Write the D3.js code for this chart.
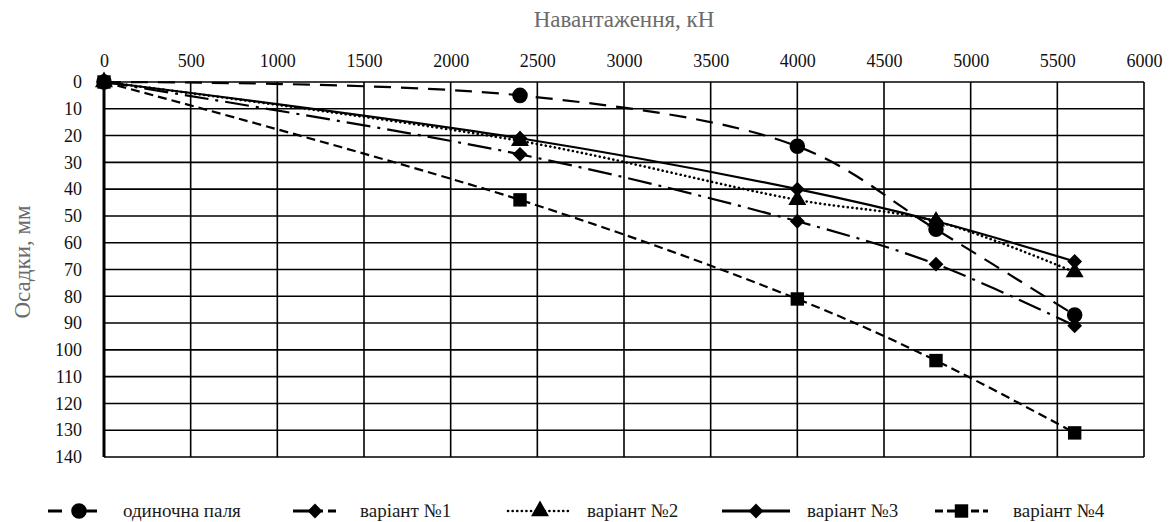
<!DOCTYPE html>
<html>
<head>
<meta charset="utf-8">
<script src="https://cdn.jsdelivr.net/npm/d3@7"></script>
<style>
  body { margin: 0; background: #fff; }
</style>
</head>
<body>
<div id="chart"></div>
<script>
'use strict';

const FONT = '"Liberation Serif", "Times New Roman", "DejaVu Serif", serif';

// loads, kN
const loads = [0, 2400, 4000, 4800, 5600];

// settlements, mm
const singlePile = [0, 5, 24, 55, 87];
const variant1 = [0, 27, 52, 68, 91];
const variant2 = [0, 22, 44, 52, 71];
const variant3 = [0, 21, 40, 52, 67];
const variant4 = [0, 44, 81, 104, 131];

const seriesNames = ["одиночна паля", "варіант №1", "варіант №2", "варіант №3", "варіант №4"];
const xTicks = d3.range(0, 6001, 500);
const yTicks = d3.range(0, 141, 10);

const width = 1170, height = 522;
const margin = {top: 82, right: 26, bottom: 65, left: 104};

const svg = d3.select("#chart").append("svg")
  .attr("width", width)
  .attr("height", height)
  .attr("font-family", FONT);

const x = d3.scaleLinear().domain([0, 6000]).range([margin.left, width - margin.right]);
const y = d3.scaleLinear().domain([0, 140]).range([margin.top, height - margin.bottom]);

// equal diamond like the spreadsheet marker
const squareDiamond = {
  draw: function(ctx, size) {
    const r = Math.sqrt(size / 2);
    ctx.moveTo(0, -r); ctx.lineTo(r, 0); ctx.lineTo(0, r); ctx.lineTo(-r, 0); ctx.closePath();
  }
};

// grid
svg.append("g").selectAll("line")
  .data(xTicks)
  .join("line")
  .attr("x1", d => x(d)).attr("x2", d => x(d))
  .attr("y1", y(0)).attr("y2", y(140))
  .attr("stroke", "#000").attr("stroke-width", 1.6);

svg.append("g").selectAll("line")
  .data(yTicks)
  .join("line")
  .attr("x1", x(0)).attr("x2", x(6000))
  .attr("y1", d => y(d)).attr("y2", d => y(d))
  .attr("stroke", "#000").attr("stroke-width", 1.6);

// thick left axis
svg.append("line")
  .attr("x1", x(0)).attr("x2", x(0))
  .attr("y1", y(0)).attr("y2", y(140))
  .attr("stroke", "#000").attr("stroke-width", 3);

// tick labels via axes
const xAxis = svg.append("g")
  .attr("transform", "translate(0," + (y(0) - 9) + ")")
  .call(d3.axisTop(x).tickValues(xTicks).tickSize(0).tickPadding(6).tickFormat(d3.format("d")));
const yAxis = svg.append("g")
  .attr("transform", "translate(" + (x(0) - 22) + ",0)")
  .call(d3.axisLeft(y).tickValues(yTicks).tickSize(0).tickPadding(0).tickFormat(d3.format("d")));
[xAxis, yAxis].forEach(a => {
  a.attr("font-family", FONT).attr("font-size", 18);
  a.select(".domain").remove();
  a.selectAll("text").attr("fill", "#111");
});

// axis titles
svg.append("text")
  .attr("x", 624).attr("y", 27)
  .attr("text-anchor", "middle")
  .attr("fill", "#6b6b6b")
  .attr("font-size", 23)
  .text("Навантаження, кН");

svg.append("text")
  .attr("transform", "translate(30," + 262 + ") rotate(-90)")
  .attr("text-anchor", "middle")
  .attr("fill", "#6b6b6b")
  .attr("font-size", 23)
  .text("Осадки, мм");

// series styles
const series = [
  {name: seriesNames[0], values: singlePile, dash: "17,10", cap: "butt", marker: d3.symbolCircle, size: 190},
  {name: seriesNames[1], values: variant1, dash: "24,7,3,7", cap: "butt", marker: squareDiamond, size: 110},
  {name: seriesNames[2], values: variant2, dash: "0.1,4.5", cap: "round", marker: d3.symbolTriangle, size: 140},
  {name: seriesNames[3], values: variant3, dash: null, cap: "butt", marker: squareDiamond, size: 110},
  {name: seriesNames[4], values: variant4, dash: "9,5", cap: "butt", marker: d3.symbolSquare, size: 180}
];

const line = d3.line()
  .x(d => x(d[0]))
  .y(d => y(d[1]))
  .curve(d3.curveCatmullRom.alpha(0.5));

series.forEach(s => {
  const pts = loads.map((l, i) => [l, s.values[i]]);
  const g = svg.append("g");
  g.append("path")
    .datum(pts)
    .attr("d", line)
    .attr("fill", "none")
    .attr("stroke", "#000")
    .attr("stroke-width", s.cap === "round" ? 2.6 : 2.2)
    .attr("stroke-linecap", s.cap)
    .attr("stroke-dasharray", s.dash);
  g.selectAll("path.m")
    .data(pts)
    .join("path")
    .attr("class", "m")
    .attr("transform", d => "translate(" + x(d[0]) + "," + y(d[1]) + ")")
    .attr("d", d3.symbol().type(s.marker).size(s.size))
    .attr("fill", "#000");
});

// legend
const legendItems = [
  {x1: 48, x2: 110, tx: 123},
  {x1: 293, x2: 337, tx: 360},
  {x1: 508, x2: 572, tx: 587},
  {x1: 722, x2: 790, tx: 807},
  {x1: 935, x2: 988, tx: 1013}
];
const legendDash = ["14,21", "22,6,2,5,8,100", null, null, "8,4"];
const ly = 511;
series.forEach((s, i) => {
  const it = legendItems[i];
  const g = svg.append("g");
  g.append("line")
    .attr("x1", it.x1).attr("x2", it.x2)
    .attr("y1", ly).attr("y2", ly)
    .attr("stroke", "#000")
    .attr("stroke-width", s.cap === "round" ? 2.6 : 3)
    .attr("stroke-linecap", s.cap)
    .attr("stroke-dasharray", legendDash[i] || s.dash);
  g.append("path")
    .attr("transform", "translate(" + ((it.x1 + it.x2) / 2) + "," + ly + ")")
    .attr("d", d3.symbol().type(s.marker).size(s.size))
    .attr("fill", "#000");
  g.append("text")
    .attr("x", it.tx).attr("y", ly + 6)
    .attr("fill", "#1a1a1a")
    .attr("font-size", 19)
    .text(s.name);
});
</script>
</body>
</html>
